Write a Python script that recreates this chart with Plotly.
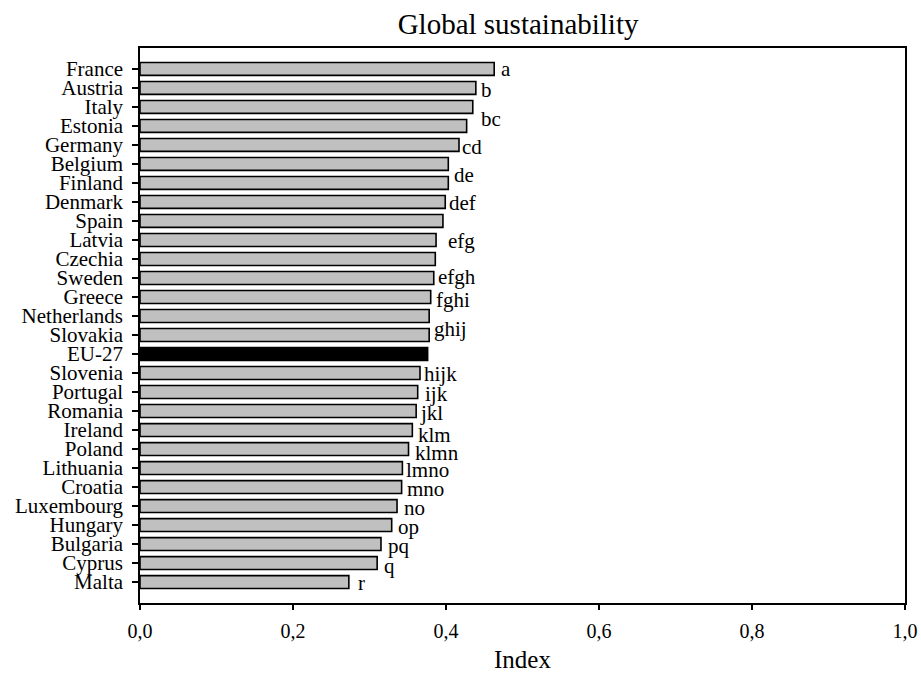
import plotly.graph_objects as go

# Global sustainability index by country (sorted, highest first)
countries = ["France", "Austria", "Italy", "Estonia", "Germany", "Belgium", "Finland",
             "Denmark", "Spain", "Latvia", "Czechia", "Sweden", "Greece", "Netherlands",
             "Slovakia", "EU-27", "Slovenia", "Portugal", "Romania", "Ireland", "Poland",
             "Lithuania", "Croatia", "Luxembourg", "Hungary", "Bulgaria", "Cyprus", "Malta"]
index_values = [0.463, 0.439, 0.435, 0.427, 0.417, 0.403, 0.403,
                0.399, 0.396, 0.387, 0.386, 0.384, 0.380, 0.378,
                0.378, 0.376, 0.366, 0.363, 0.361, 0.356, 0.351,
                0.343, 0.342, 0.336, 0.329, 0.315, 0.310, 0.273]

# Homogeneous-group letters (Tukey-style), keyed by the bar they sit beside
group_letters = {"France": "a", "Austria": "b", "Italy": "bc", "Germany": "cd",
                 "Belgium": "de", "Denmark": "def", "Latvia": "efg", "Sweden": "efgh",
                 "Greece": "fghi", "Netherlands": "ghij", "Slovenia": "hijk",
                 "Portugal": "ijk", "Romania": "jkl", "Ireland": "klm", "Poland": "klmn",
                 "Lithuania": "lmno", "Croatia": "mno", "Luxembourg": "no",
                 "Hungary": "op", "Bulgaria": "pq", "Cyprus": "q", "Malta": "r"}

# Label placement: (vertical offset in bar slots, horizontal gap in px)
label_place = {"France": (0.0, 5), "Austria": (0.1, 3), "Italy": (0.63, 6),
               "Germany": (0.1, 1), "Belgium": (0.58, 4), "Denmark": (0.05, 2),
               "Latvia": (0.05, 10), "Sweden": (-0.05, 2), "Greece": (0.15, 3),
               "Netherlands": (0.68, 3), "Slovenia": (0.05, 2), "Portugal": (0.1, 5),
               "Romania": (0.1, 2), "Ireland": (0.26, 4), "Poland": (0.2, 4),
               "Lithuania": (0.1, 2), "Croatia": (0.1, 3), "Luxembourg": (0.1, 5),
               "Hungary": (0.1, 4), "Bulgaria": (0.1, 5), "Cyprus": (0.15, 5),
               "Malta": (0.05, 7)}

SERIF = "Liberation Serif, Times New Roman, serif"

colors = ["#000000" if c == "EU-27" else "#c0c0c0" for c in countries]

fig = go.Figure(go.Bar(
    x=index_values, y=countries, orientation="h",
    marker=dict(color=colors, line=dict(color="#000000", width=1.6)),
    width=0.68,
))

pos = {c: i for i, c in enumerate(countries)}
for c, txt in group_letters.items():
    dy, dx = label_place[c]
    fig.add_annotation(x=index_values[pos[c]], y=pos[c] + dy, text=txt,
                       xref="x", yref="y", showarrow=False,
                       xanchor="left", yanchor="middle", xshift=dx,
                       font=dict(family=SERIF, size=21, color="#000000"))

n = len(countries)
fig.update_layout(
    width=921, height=674,
    margin=dict(l=140, r=16, t=48, b=71, autoexpand=False),
    paper_bgcolor="white", plot_bgcolor="white",
    separators=", ",
    showlegend=False,
    title=dict(text="Global sustainability", x=0.5625, xanchor="center",
               y=1 - 24 / 674, yanchor="middle",
               font=dict(family=SERIF, size=29, color="#000000")),
    font=dict(family=SERIF, color="#000000"),
)
fig.update_xaxes(range=[0, 1.0], tickmode="array", tickvals=[0, 0.2, 0.4, 0.6, 0.8, 1.0],
                 tickformat=".1f", automargin=False,
                 showgrid=False, zeroline=False, showline=True, linecolor="#000000",
                 linewidth=1.5, mirror=True, ticks="outside", ticklen=5, tickwidth=1.5,
                 tickcolor="#000000", tickfont=dict(family=SERIF, size=20),
                 ticklabelstandoff=4,
                 title=dict(text="Index", font=dict(family=SERIF, size=25), standoff=10))
fig.update_yaxes(type="category", categoryorder="array", categoryarray=countries,
                 tickmode="array", tickvals=countries, ticktext=countries,
                 automargin=False,
                 range=[n - 1 + 1.1, -1.1], showgrid=False, zeroline=False,
                 showline=True, linecolor="#000000", linewidth=1.5, mirror=True,
                 ticks="outside", ticklen=6, tickwidth=1.5, tickcolor="#000000",
                 ticklabelstandoff=5,
                 tickfont=dict(family=SERIF, size=21))

fig.write_html("out.html")
